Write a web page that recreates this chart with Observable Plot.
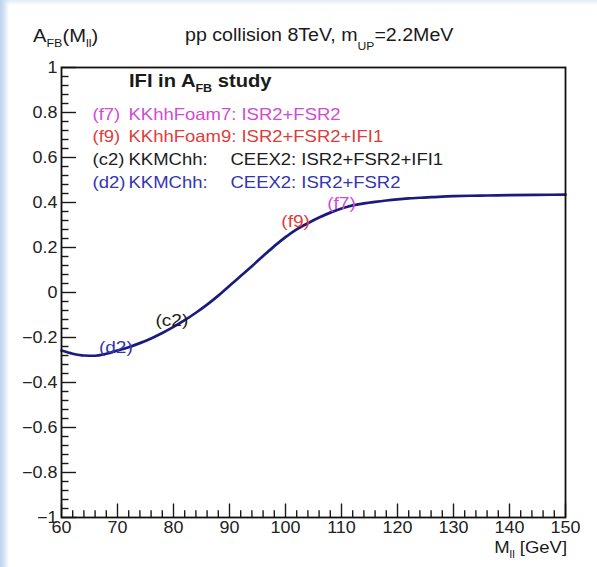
<!DOCTYPE html>
<html><head><meta charset="utf-8">
<script src="https://cdn.jsdelivr.net/npm/d3@7"></script>
<script src="https://cdn.jsdelivr.net/npm/@observablehq/plot@0.6"></script>
<style>
html,body{margin:0;padding:0;}
body{width:597px;height:567px;overflow:hidden;
  background:linear-gradient(to right,#bcd2ee 0px,#d3e2f4 4px,rgba(255,255,255,0) 9px),linear-gradient(to bottom,#e2ebf6 0px,#ffffff 5px);}
#wrap{position:relative;width:597px;height:567px;font-family:"Liberation Sans",Arial,Helvetica,sans-serif;color:#1a1a1a;}
#wrap svg{position:absolute;left:0;top:0;}
.ann{position:absolute;white-space:nowrap;line-height:1;transform:scaleX(1.12);transform-origin:left top;}
.sub{font-size:0.62em;position:relative;}
</style></head>
<body><div id="wrap">
<div class="ann" style="left:33px;top:27px;font-size:18px">A<span class="sub" style="top:5px">FB</span>(M<span class="sub" style="top:5px">ll</span>)</div>
<div class="ann" style="left:185px;top:27px;font-size:17.5px">pp collision 8TeV, m<span class="sub" style="top:9px">UP</span>=2.2MeV</div>
<div class="ann" style="left:129px;top:72px;font-size:18px;font-weight:bold">IFI in A<span class="sub" style="top:5px">FB</span> study</div>
<div class="ann" style="right:30px;top:539px;font-size:16.5px;transform-origin:right top">M<span class="sub" style="top:5px">ll</span> [GeV]</div>
</div>
<script>
// ---- data ----
const mass = [60,62,64,66,68,70,72,74,76,78,80,82,84,86,88,90,92,94,96,98,100,102,104,106,108,110,112,114,116,118,120,122,124,126,128,130,133,136,140,145,150];
const afb  = [-0.258,-0.272,-0.280,-0.281,-0.272,-0.258,-0.243,-0.225,-0.204,-0.180,-0.153,-0.123,-0.090,-0.054,-0.014,0.030,0.073,0.117,0.162,0.206,0.246,0.281,0.308,0.333,0.355,0.373,0.387,0.396,0.403,0.409,0.414,0.418,0.421,0.424,0.426,0.428,0.430,0.431,0.433,0.434,0.435];
const yTicks = [-1,-0.8,-0.6,-0.4,-0.2,0,0.2,0.4,0.6,0.8,1];
const yTickLabels = ["\u22121","\u22120.8","\u22120.6","\u22120.4","\u22120.2","0","0.2","0.4","0.6","0.8","1"];
const xTicks = [60,70,80,90,100,110,120,130,140,150];
const xTickLabels = ["60","70","80","90","100","110","120","130","140","150"];
const legendTags = ["(f7)","(f9)","(c2)","(d2)"];
const legendPrograms = ["KKhhFoam7: ISR2+FSR2","KKhhFoam9: ISR2+FSR2+IFI1","KKMChh:","KKMChh:"];
const legendModels = ["","","CEEX2: ISR2+FSR2+IFI1","CEEX2: ISR2+FSR2"];
const seriesColors = ["#d24ad6","#e23b3b","#1c1c1c","#3434b4"];
const curveLabelText = ["(f7)","(f9)","(c2)","(d2)"];
const curveLabelMass = [110, 101.8, 79.7, 69.7];
const curveLabelAfb  = [0.396, 0.316, -0.125, -0.245];

// ---- layout ----
const W = 597, H = 567, M = {l:61, r:32, t:67, b:50};
const PW = W - M.l - M.r, PH = H - M.t - M.b;
const legendRowY = [107.5, 130, 153, 175.5];
const legendX = [31, 67, 169];
const S = 1.12;

const yMinor = d3.range(-1, 1.0001, 0.04).map(v => +v.toFixed(2)).filter(v => !yTicks.some(t => Math.abs(t - v) < 1e-6));
const xMinor = d3.range(60, 150.001, 2).filter(v => v % 10 !== 0);
const tickStyle = {stroke: "#1a1a1a", strokeWidth: 1.4};
const ff = "Liberation Sans, Arial, Helvetica, sans-serif";

const legendMarks = legendTags.flatMap((tag, i) => {
  const common = {frameAnchor: "top-left", dy: legendRowY[i] - M.t, textAnchor: "start", fill: seriesColors[i], fontSize: 16.5, fontFamily: ff};
  const ms = [
    Plot.text([tag], {...common, text: d => d, dx: legendX[0]}),
    Plot.text([legendPrograms[i]], {...common, text: d => d, dx: legendX[1]})
  ];
  if (legendModels[i]) ms.push(Plot.text([legendModels[i]], {...common, text: d => d, dx: legendX[2]}));
  return ms;
});

const svg = Plot.plot({
  width: W, height: H,
  marginLeft: M.l, marginRight: M.r, marginTop: M.t, marginBottom: M.b,
  style: {background: "transparent", fontFamily: ff, fontSize: "16px", color: "#222", overflow: "visible"},
  x: {domain: [60, 150]},
  y: {domain: [-1, 1]},
  color: {type: "identity"},
  marks: [
    Plot.line(afb, {x: mass, y: afb, stroke: "#1b1b7e", strokeWidth: 2.7, strokeLinejoin: "round", curve: "monotone-x"}),
    Plot.text(d3.range(curveLabelText.length), {x: i => curveLabelMass[i], y: i => curveLabelAfb[i], text: i => curveLabelText[i], fill: i => seriesColors[i], fontSize: 17, fontFamily: ff}),
    Plot.tickY(yMinor, {y: d => d, insetRight: PW - 7.5, ...tickStyle}),
    Plot.tickY(yTicks, {y: d => d, insetRight: PW - 15, ...tickStyle}),
    Plot.tickX(xMinor, {x: d => d, insetTop: PH - 6.75, ...tickStyle}),
    Plot.tickX(xTicks, {x: d => d, insetTop: PH - 13.5, ...tickStyle}),
    Plot.axisY(yTicks, {tickSize: 0, tickPadding: 4, tickFormat: d => yTickLabels[yTicks.indexOf(d)], label: null, fontSize: 16}),
    Plot.axisX(xTicks, {tickSize: 0, tickPadding: 4, tickFormat: d => xTickLabels[xTicks.indexOf(d)], label: null, fontSize: 16}),
    ...legendMarks,
    Plot.frame({stroke: "#111", strokeWidth: 1.8})
  ]
});
document.getElementById("wrap").appendChild(svg);
svg.querySelectorAll("text").forEach(t => {
  const L = t.getComputedTextLength();
  if (L > 0) { t.setAttribute("textLength", (L * S).toFixed(1)); t.setAttribute("lengthAdjust", "spacingAndGlyphs"); }
});
</script>
</body></html>
